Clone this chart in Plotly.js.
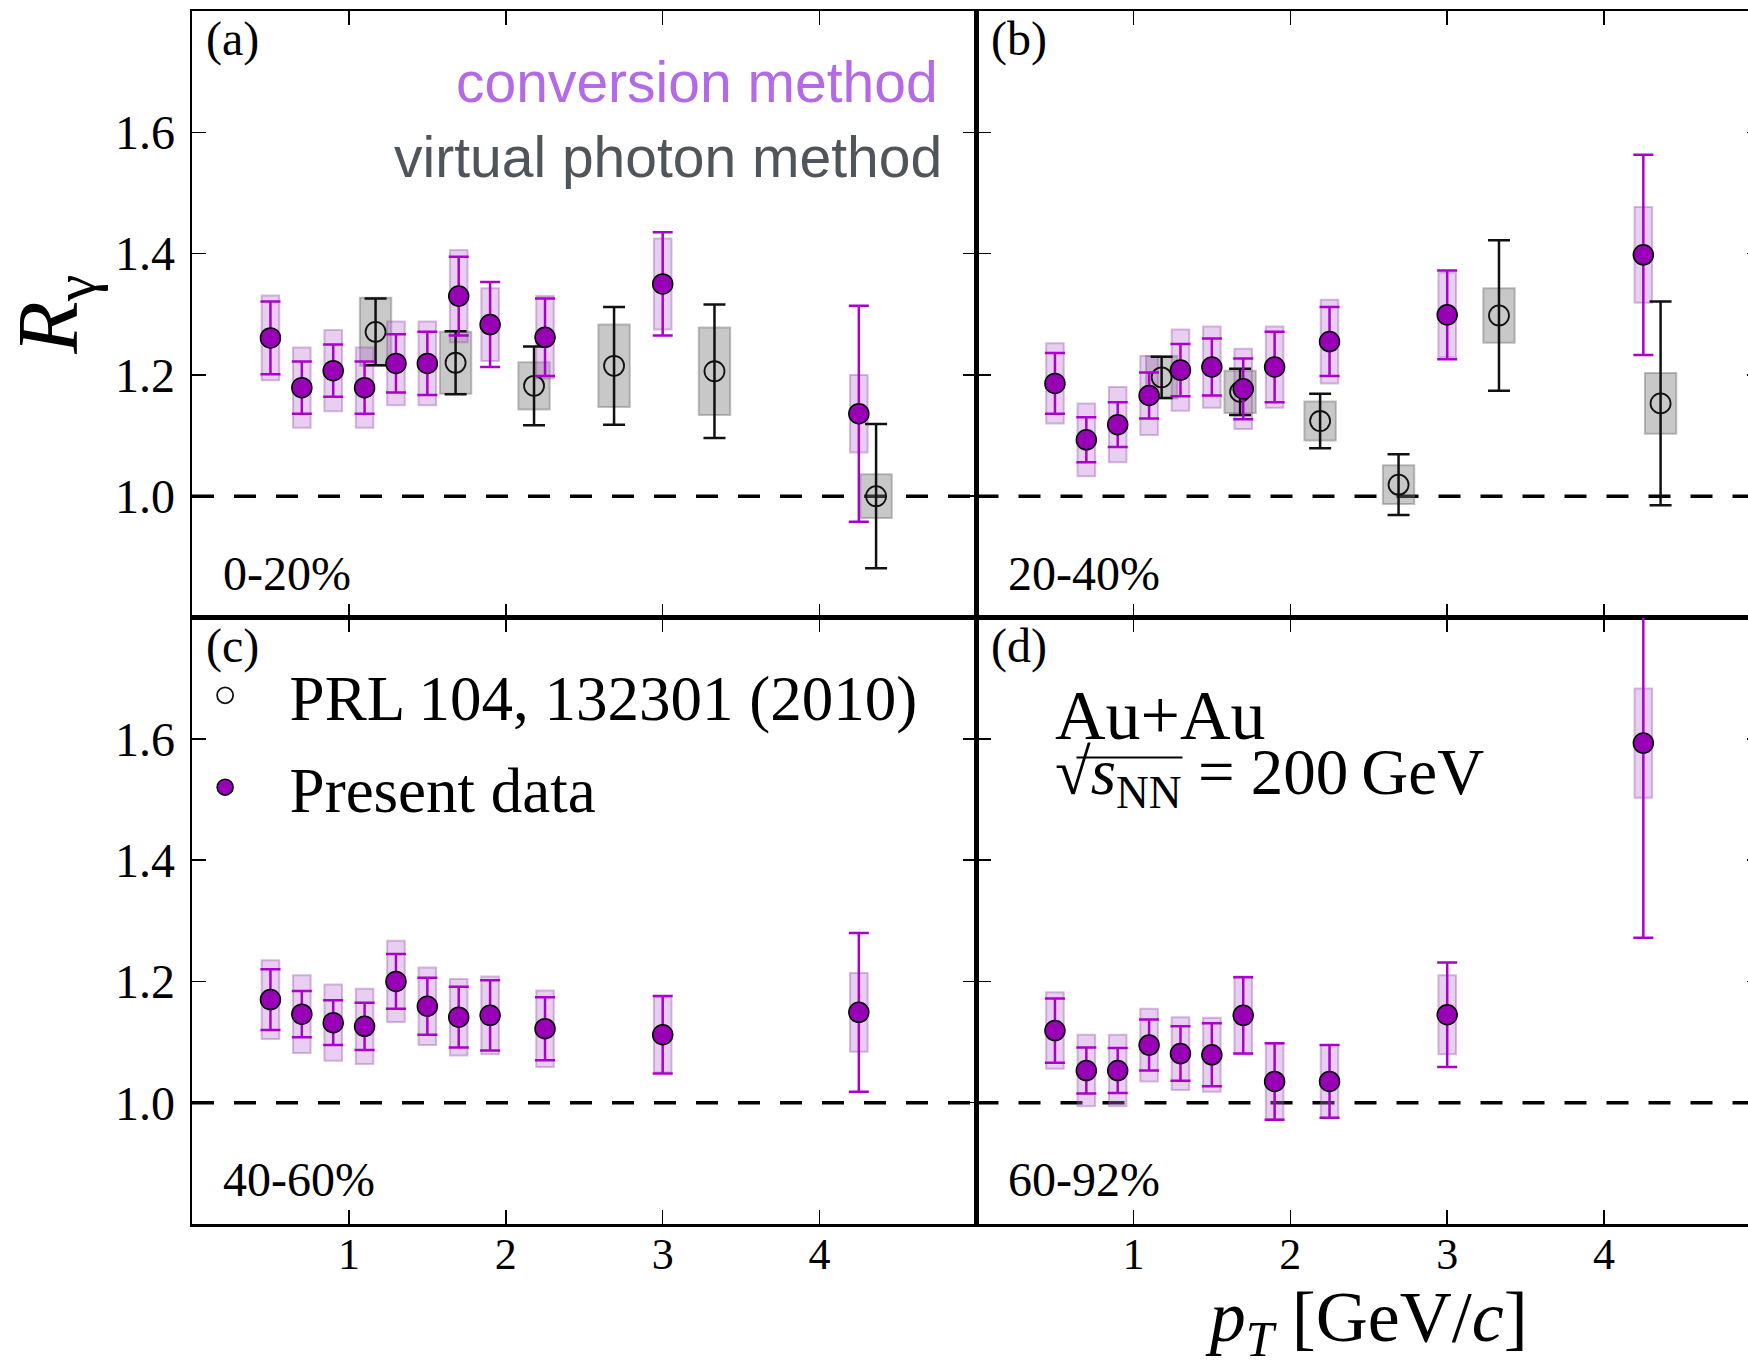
<!DOCTYPE html>
<html><head><meta charset="utf-8">
<script src="https://cdn.plot.ly/plotly-3.0.1.min.js"></script>
<style>html,body{margin:0;padding:0;overflow:hidden;background:#fff}#chart{width:1775px;height:1367px}</style>
</head><body><div id="chart"></div>
<script>
// ---- data ----
const ptPresent = [0.5, 0.7, 0.9, 1.1, 1.3, 1.5, 1.7, 1.9, 2.25, 3.0, 4.25];

const a_present_y    = [1.261, 1.179, 1.207, 1.179, 1.219, 1.219, 1.330, 1.283, 1.262, 1.350, 1.136];
const a_present_stat = [0.060, 0.043, 0.043, 0.043, 0.048, 0.052, 0.065, 0.070, 0.064, 0.085, 0.178];
const a_present_sys  = [0.070, 0.066, 0.067, 0.066, 0.069, 0.069, 0.076, 0.060, 0.068, 0.075, 0.064];
const a_prl_x    = [1.17, 1.68, 2.18, 2.69, 3.33, 4.36];
const a_prl_y    = [1.271, 1.220, 1.182, 1.215, 1.206, 1.000];
const a_prl_stat = [0.055, 0.052, 0.065, 0.097, 0.110, 0.119];
const a_prl_sys  = [0.056, 0.051, 0.039, 0.068, 0.072, 0.036];

const b_present_y    = [1.186, 1.093, 1.118, 1.166, 1.208, 1.213, 1.177, 1.213, 1.255, 1.299, 1.398];
const b_present_stat = [0.050, 0.037, 0.037, 0.038, 0.043, 0.047, 0.050, 0.058, 0.057, 0.073, 0.165];
const b_present_sys  = [0.066, 0.060, 0.062, 0.065, 0.067, 0.067, 0.066, 0.067, 0.069, 0.070, 0.079];
const b_prl_x    = [1.18, 1.68, 2.19, 2.69, 3.33, 4.36];
const b_prl_y    = [1.196, 1.172, 1.124, 1.019, 1.298, 1.153];
const b_prl_stat = [0.034, 0.038, 0.045, 0.050, 0.124, 0.168];
const b_prl_sys  = [0.035, 0.035, 0.032, 0.032, 0.045, 0.050];

const c_present_y    = [1.170, 1.146, 1.132, 1.126, 1.200, 1.159, 1.141, 1.144, 1.122, 1.112, 1.149];
const c_present_stat = [0.050, 0.038, 0.037, 0.039, 0.045, 0.047, 0.050, 0.058, 0.052, 0.064, 0.131];
const c_present_sys  = [0.065, 0.064, 0.063, 0.062, 0.067, 0.064, 0.063, 0.064, 0.063, 0.062, 0.065];

const d_present_y    = [1.119, 1.053, 1.053, 1.095, 1.081, 1.079, 1.144, 1.035, 1.035, 1.145, 1.593];
const d_present_stat = [0.053, 0.038, 0.037, 0.042, 0.045, 0.052, 0.063, 0.063, 0.060, 0.086, 0.321];
const d_present_sys  = [0.063, 0.059, 0.059, 0.060, 0.060, 0.061, 0.064, 0.062, 0.060, 0.065, 0.090];

const xTicks = [1, 2, 3, 4];
const yTicks = [1.0, 1.2, 1.4, 1.6];
const panelLabels = ['(a)', '(b)', '(c)', '(d)'];
const centralityLabels = ['0-20%', '20-40%', '40-60%', '60-92%'];
const legendNames = ['PRL 104, 132301 (2010)', 'Present data'];

// ---- styles ----
const SERIF = 'Liberation Serif, Times New Roman, serif';
const SANS = 'Liberation Sans, Arial, sans-serif';
const PURPLE_MARK = '#9800b6';
const PURPLE_ERR = '#aa00cc';

function sysBars(x, y, sys, width, fill, line, xa, ya) {
  return {type: 'bar', x: x, y: sys.map(s => 2 * s), base: y.map((v, i) => v - sys[i]),
    width: width, marker: {color: fill, line: {color: line, width: 2}},
    xaxis: xa, yaxis: ya, showlegend: false, hoverinfo: 'skip'};
}
function prlPoints(x, y, stat, xa, ya, leg) {
  return {type: 'scatter', mode: 'markers', x: x, y: y, name: legendNames[0], legendgroup: 'prl',
    error_y: {type: 'data', array: stat, visible: true, color: '#111', thickness: 2.5, width: 11},
    marker: {symbol: 'circle-open', size: 20, color: '#111', line: {width: 1.8, color: '#111'}},
    xaxis: xa, yaxis: ya, showlegend: leg};
}
function presentPoints(x, y, stat, xa, ya, leg) {
  return {type: 'scatter', mode: 'markers', x: x, y: y, name: legendNames[1], legendgroup: 'present',
    error_y: {type: 'data', array: stat, visible: true, color: PURPLE_ERR, thickness: 2.5, width: 10},
    marker: {symbol: 'circle', size: 20, color: PURPLE_MARK, line: {width: 1.5, color: '#000'}},
    xaxis: xa, yaxis: ya, showlegend: leg};
}
const GRAY_FILL = 'rgba(125,125,125,0.42)', GRAY_LINE = 'rgba(100,100,100,0.40)';
const PUR_FILL = 'rgba(190,115,215,0.35)', PUR_LINE = 'rgba(140,70,160,0.35)';

const traces = [
  sysBars(a_prl_x, a_prl_y, a_prl_sys, 0.2, GRAY_FILL, GRAY_LINE, 'x', 'y'),
  sysBars(ptPresent, a_present_y, a_present_sys, 0.112, PUR_FILL, PUR_LINE, 'x', 'y'),
  sysBars(b_prl_x, b_prl_y, b_prl_sys, 0.2, GRAY_FILL, GRAY_LINE, 'x2', 'y2'),
  sysBars(ptPresent, b_present_y, b_present_sys, 0.112, PUR_FILL, PUR_LINE, 'x2', 'y2'),
  sysBars(ptPresent, c_present_y, c_present_sys, 0.112, PUR_FILL, PUR_LINE, 'x3', 'y3'),
  sysBars(ptPresent, d_present_y, d_present_sys, 0.112, PUR_FILL, PUR_LINE, 'x4', 'y4'),
  prlPoints(a_prl_x, a_prl_y, a_prl_stat, 'x', 'y', true),
  prlPoints(b_prl_x, b_prl_y, b_prl_stat, 'x2', 'y2', false),
  presentPoints(ptPresent, a_present_y, a_present_stat, 'x', 'y', true),
  presentPoints(ptPresent, b_present_y, b_present_stat, 'x2', 'y2', false),
  presentPoints(ptPresent, c_present_y, c_present_stat, 'x3', 'y3', false),
  presentPoints(ptPresent, d_present_y, d_present_stat, 'x4', 'y4', false)
];

function xAxis(domain, anchor, labels, title) {
  const o = {domain: domain, anchor: anchor, range: [0, 5], tickmode: 'array', tickvals: xTicks,
    ticks: 'inside', ticklen: 14, tickwidth: 1.5, tickcolor: '#000',
    showline: true, linewidth: 2.5, linecolor: '#000', mirror: 'ticks',
    showgrid: false, zeroline: false, showticklabels: labels, ticklabelstandoff: -10,
    tickfont: {family: SERIF, size: 44, color: '#000'}, fixedrange: true};
  if (title) o.title = {text: title, font: {family: SERIF, size: 72, color: '#000'}, standoff: 38};
  return o;
}
function yAxis(domain, anchor, labels, title) {
  const o = {domain: domain, anchor: anchor, range: [0.8, 1.8], tickmode: 'array', tickvals: yTicks,
    tickformat: '.1f', ticks: 'inside', ticklen: 14, tickwidth: 1.5, tickcolor: '#000',
    showline: true, linewidth: 2.5, linecolor: '#000', mirror: 'ticks',
    showgrid: false, zeroline: false, showticklabels: labels, ticklabelstandoff: 5,
    tickfont: {family: SERIF, size: 48, color: '#000'}, fixedrange: true};
  if (title) o.title = {text: title, font: {family: SERIF, size: 86, color: '#000'}, standoff: 20};
  return o;
}

const PW = 784.5, PH = 606.5;
const panelRefs = [['x', 'y'], ['x2', 'y2'], ['x3', 'y3'], ['x4', 'y4']];
function ann(p, dx, dy, text, font, xanchor) {
  return {xref: panelRefs[p][0] + ' domain', yref: panelRefs[p][1] + ' domain',
    x: dx / PW, y: 1 - dy / PH, xanchor: xanchor || 'left', yanchor: 'middle',
    text: text, font: font, showarrow: false};
}
const annotations = [];
for (let p = 0; p < 4; p++) {
  annotations.push(ann(p, 12, 28, panelLabels[p], {family: SERIF, size: 48, color: '#000'}));
  annotations.push(ann(p, 29, 562, centralityLabels[p], {family: SERIF, size: 48, color: '#000'}));
}
annotations.push(ann(0, 748, 71, 'conversion method', {family: SANS, size: 57, color: '#b46ae6'}, 'right'));
annotations.push(ann(0, 752, 146, 'virtual photon method', {family: SANS, size: 57, color: '#50555c'}, 'right'));
annotations.push(ann(3, 76, 98, 'Au+Au', {family: SERIF, size: 70, color: '#000'}));
annotations.push(ann(3, 76, 159, '√<i>s</i><sub>NN</sub> = 200\u2009GeV', {family: SERIF, size: 65, color: '#000'}));

const shapes = panelRefs.map(r => ({type: 'line', xref: r[0] + ' domain', x0: 0, x1: 1, yref: r[1], y0: 1, y1: 1,
  line: {color: '#000', width: 3.5, dash: '22px,20px'}, layer: 'below'}));
// vinculum of the square root in panel (d)
shapes.push({type: 'line', xref: 'x4 domain', yref: 'y4 domain', x0: 100 / PW, x1: 206 / PW,
  y0: 1 - 140 / PH, y1: 1 - 140 / PH, line: {color: '#000', width: 2.2}, layer: 'above'});

const layout = {
  width: 1775, height: 1367,
  margin: {l: 192, r: 14, t: 11, b: 143, pad: 0},
  paper_bgcolor: '#fff', plot_bgcolor: '#fff',
  barmode: 'overlay', hovermode: false,
  xaxis: xAxis([0, 0.5], 'y', false),
  yaxis: yAxis([0.5, 1], 'x', true, '<i>R</i><sub>γ</sub>'),
  xaxis2: xAxis([0.5, 1], 'y2', false),
  yaxis2: yAxis([0.5, 1], 'x2', false),
  xaxis3: xAxis([0, 0.5], 'y3', true),
  yaxis3: yAxis([0, 0.5], 'x3', true),
  xaxis4: xAxis([0.5, 1], 'y4', true, '<i>p</i><sub><i>T</i></sub> [GeV/<i>c</i>]'),
  yaxis4: yAxis([0, 0.5], 'x4', false),
  showlegend: true,
  legend: {x: -0.02, y: 0.475, xanchor: 'left', yanchor: 'top', bgcolor: 'rgba(0,0,0,0)',
    font: {family: SERIF, size: 63, color: '#000'}, itemwidth: 119, tracegroupgap: 7,
    traceorder: 'grouped', itemclick: false, itemdoubleclick: false},
  annotations: annotations,
  shapes: shapes
};

Plotly.newPlot('chart', traces, layout, {displayModeBar: false, staticPlot: true});
</script>
</body></html>
